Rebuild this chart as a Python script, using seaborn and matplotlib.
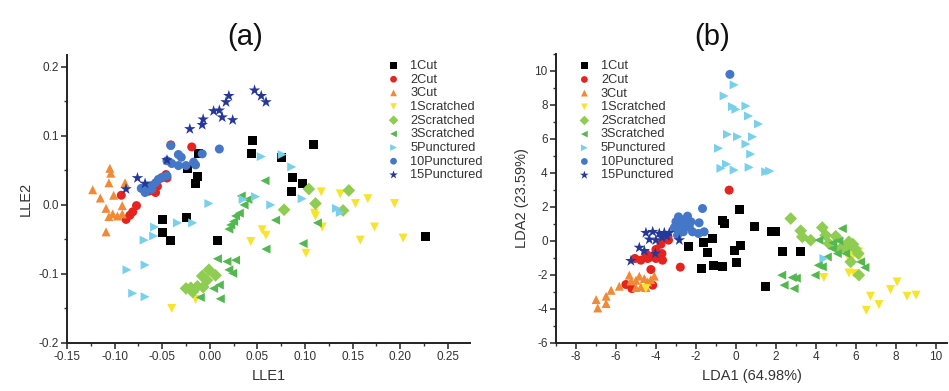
import numpy as np
import pandas as pd
import matplotlib
matplotlib.use("Agg")
import matplotlib.pyplot as plt
from matplotlib.ticker import MultipleLocator
import seaborn as sns

categories = ["1Cut", "2Cut", "3Cut", "1Scratched", "2Scratched", "3Scratched",
              "5Punctured", "10Punctured", "15Punctured"]
colors = ["#000000", "#e5231f", "#f08a36", "#f7e52b", "#8fcc52", "#52b84f",
          "#78d0ea", "#4477c8", "#25389a"]
markers = ["s", "o", "^", "v", "D", "<", ">", "o", "*"]

# ---- panel (a): LLE ----
a_1cut_x = [0.045, 0.044, 0.109, 0.075, 0.087, 0.086, 0.097, -0.012, -0.023, -0.013, -0.015, -0.050, -0.050, -0.041, -0.025, 0.008, 0.226]
a_1cut_y = [0.094, 0.074, 0.087, 0.068, 0.040, 0.020, 0.031, 0.074, 0.053, 0.041, 0.031, -0.021, -0.040, -0.052, -0.018, -0.051, -0.046]
a_2cut_x = [-0.041, -0.019, -0.093, -0.077, -0.081, -0.088, -0.071, -0.064, -0.057, -0.046, -0.051, -0.045, -0.055, -0.084]
a_2cut_y = [0.087, 0.084, 0.014, -0.001, -0.010, -0.021, 0.024, 0.020, 0.018, 0.044, 0.039, 0.039, 0.027, -0.015]
a_3cut_x = [-0.105, -0.106, -0.123, -0.101, -0.089, -0.115, -0.109, -0.102, -0.097, -0.092, -0.106, -0.092, -0.109, -0.104]
a_3cut_y = [0.053, 0.032, 0.022, 0.014, 0.032, 0.010, -0.005, -0.013, -0.016, -0.013, -0.017, -0.001, -0.039, 0.046]
a_1scr_x = [0.117, 0.137, 0.153, 0.166, 0.194, 0.110, 0.111, 0.118, 0.158, 0.173, 0.203, 0.101, 0.043, 0.055, 0.059, -0.040, -0.015]
a_1scr_y = [0.019, 0.016, 0.002, 0.009, 0.002, -0.012, -0.016, -0.032, -0.051, -0.032, -0.048, -0.070, -0.053, -0.036, -0.044, -0.150, -0.137]
a_2scr_x = [0.104, 0.111, 0.146, 0.140, 0.078, -0.001, -0.008, 0.006, -0.020, -0.013, -0.007, -0.025, -0.018, -0.003]
a_2scr_y = [0.023, 0.002, 0.021, -0.008, -0.007, -0.094, -0.103, -0.102, -0.120, -0.118, -0.119, -0.121, -0.126, -0.109]
a_3scr_x = [0.058, 0.033, 0.040, 0.036, 0.031, 0.027, 0.022, 0.025, 0.020, 0.069, 0.059, 0.098, 0.113, 0.008, 0.018, 0.027, 0.020, 0.024, 0.004, 0.011, -0.010, 0.010]
a_3scr_y = [0.035, 0.013, 0.008, 0.000, -0.012, -0.016, -0.029, -0.024, -0.035, -0.022, -0.064, -0.056, -0.026, -0.078, -0.082, -0.080, -0.094, -0.099, -0.121, -0.136, -0.134, -0.116]
a_5pun_x = [0.054, 0.076, 0.086, 0.048, 0.035, 0.064, 0.097, 0.133, 0.137, -0.001, -0.018, -0.034, -0.058, -0.069, -0.059, -0.087, -0.068, -0.081, -0.068]
a_5pun_y = [0.070, 0.073, 0.055, 0.012, 0.008, 0.000, 0.009, -0.005, -0.011, 0.002, -0.026, -0.026, -0.032, -0.051, -0.045, -0.094, -0.087, -0.128, -0.133]
a_10pun_x = [-0.041, -0.033, -0.030, -0.008, 0.010, -0.017, -0.015, -0.025, -0.033, -0.040, -0.045, -0.045, -0.050, -0.054, -0.057, -0.061, -0.066, -0.068, -0.061, -0.072]
a_10pun_y = [0.086, 0.073, 0.069, 0.074, 0.081, 0.062, 0.058, 0.057, 0.057, 0.060, 0.064, 0.042, 0.040, 0.037, 0.032, 0.028, 0.027, 0.018, 0.023, 0.024]
a_15pun_x = [0.047, 0.054, 0.059, 0.020, 0.017, 0.010, 0.004, 0.013, 0.024, -0.007, -0.008, -0.021, -0.068, -0.076, -0.088, -0.045]
a_15pun_y = [0.166, 0.158, 0.149, 0.158, 0.149, 0.137, 0.136, 0.127, 0.123, 0.124, 0.116, 0.110, 0.031, 0.039, 0.023, 0.065]

# ---- panel (b): LDA ----
b_1cut_x = [0.15, -0.68, -0.60, 0.90, 1.78, 1.98, -2.38, -1.65, -1.18, 0.24, -0.10, -1.41, -1.71, -1.13, -0.68, 0.04, 2.31, 3.23, 1.45]
b_1cut_y = [1.87, 1.23, 1.03, 0.87, 0.54, 0.58, -0.31, -0.11, 0.15, -0.25, -0.58, -0.70, -1.62, -1.47, -1.52, -1.27, -0.60, -0.60, -2.66]
b_2cut_x = [-0.35, -2.79, -3.38, -3.76, -4.01, -4.26, -4.51, -4.76, -5.06, -4.01, -3.71, -3.68, -4.26, -4.17, -5.51, -5.21, -4.42]
b_2cut_y = [2.99, -1.54, 0.05, -0.19, -0.50, -0.94, -0.74, -1.13, -1.03, -1.03, -0.74, -1.13, -1.68, -2.60, -2.56, -2.80, -1.03]
b_3cut_x = [-7.00, -6.92, -6.50, -6.50, -6.25, -5.84, -5.34, -5.26, -5.01, -4.84, -4.59, -4.42, -4.76, -5.01, -4.51, -4.26, -4.09]
b_3cut_y = [-3.45, -3.94, -3.25, -3.68, -2.90, -2.66, -2.01, -2.35, -2.31, -2.07, -2.21, -2.41, -2.70, -2.74, -2.74, -2.27, -2.07]
b_1scr_x = [-4.51, 4.39, 5.56, 5.73, 5.81, 5.64, 5.89, 6.14, 6.72, 7.14, 6.51, 7.72, 8.05, 8.55, 9.00, 5.44, 6.19]
b_1scr_y = [-2.80, -2.15, -0.84, -0.74, -0.94, -1.88, -1.92, -0.64, -3.25, -3.74, -4.08, -2.86, -2.41, -3.25, -3.19, -0.58, -0.94]
b_2scr_x = [2.73, 3.23, 3.31, 3.73, 4.31, 4.48, 4.98, 5.64, 5.84, 5.94, 6.11, 6.14, 5.48, 4.64, 5.23, 5.73]
b_2scr_y = [1.32, 0.60, 0.24, 0.05, 0.79, 0.34, 0.28, -0.05, -0.19, -0.44, -0.74, -2.01, -0.35, -0.15, -0.44, -1.23]
b_3scr_x = [2.28, 2.40, 2.81, 2.90, 3.01, 3.95, 4.11, 4.31, 4.56, 4.81, 5.06, 5.31, 5.48, 6.22, 6.44, 4.14, 4.84, 5.14]
b_3scr_y = [-2.01, -2.60, -2.15, -2.80, -2.19, -2.01, -1.43, -1.52, -0.94, -0.44, -0.74, 0.73, -0.74, -1.23, -1.56, 0.05, -0.11, 0.01]
b_5pun_x = [-0.60, -0.10, -0.18, -0.01, 0.49, 0.62, 1.12, -0.43, 0.07, 0.49, 0.82, 0.73, -0.88, -0.76, -0.48, -0.10, 0.65, 1.48, 1.68, 4.39]
b_5pun_y = [8.53, 9.18, 7.90, 7.74, 7.94, 7.35, 6.88, 6.27, 6.13, 5.70, 6.13, 5.11, 5.45, 4.27, 4.52, 4.17, 4.33, 4.07, 4.11, -1.03]
b_10pun_x = [-0.31, -1.68, -2.88, -2.68, -2.43, -2.26, -2.84, -2.59, -2.34, -2.18, -1.85, -1.88, -1.60, -2.51, -3.01, -3.09, -2.64, -2.93]
b_10pun_y = [9.80, 1.91, 1.42, 1.23, 1.46, 1.13, 0.83, 0.83, 0.83, 0.54, 1.07, 0.44, 0.54, 1.07, 1.13, 0.79, 0.54, 0.34]
b_15pun_x = [-4.51, -4.17, -3.84, -3.59, -3.34, -4.34, -4.01, -3.71, -2.84, -4.84, -4.59, -5.26, -4.04, -3.46]
b_15pun_y = [0.48, 0.54, 0.44, 0.48, 0.48, 0.09, 0.05, 0.20, 0.05, -0.39, -0.58, -1.17, -0.74, 0.28]

a_series = [(a_1cut_x, a_1cut_y), (a_2cut_x, a_2cut_y), (a_3cut_x, a_3cut_y),
            (a_1scr_x, a_1scr_y), (a_2scr_x, a_2scr_y), (a_3scr_x, a_3scr_y),
            (a_5pun_x, a_5pun_y), (a_10pun_x, a_10pun_y), (a_15pun_x, a_15pun_y)]
b_series = [(b_1cut_x, b_1cut_y), (b_2cut_x, b_2cut_y), (b_3cut_x, b_3cut_y),
            (b_1scr_x, b_1scr_y), (b_2scr_x, b_2scr_y), (b_3scr_x, b_3scr_y),
            (b_5pun_x, b_5pun_y), (b_10pun_x, b_10pun_y), (b_15pun_x, b_15pun_y)]


def to_df(series):
    rows = []
    for cat, (xs, ys) in zip(categories, series):
        for x, y in zip(xs, ys):
            rows.append((cat, x, y))
    return pd.DataFrame(rows, columns=["group", "x", "y"])


sns.set_style("ticks")
plt.rcParams["font.family"] = ["Liberation Sans", "DejaVu Sans"]
plt.rcParams["axes.unicode_minus"] = False
plt.rcParams["text.color"] = "#333333"
plt.rcParams["axes.labelcolor"] = "#333333"
plt.rcParams["xtick.color"] = "#333333"
plt.rcParams["ytick.color"] = "#333333"

fig = plt.figure(figsize=(9.49, 3.91), dpi=100)
ax1 = fig.add_axes([0.0706, 0.1228, 0.4244, 0.7362])
ax2 = fig.add_axes([0.586, 0.1228, 0.412, 0.7392])

palette = dict(zip(categories, colors))
marker_map = dict(zip(categories, markers))
sizes_map = {c: (75 if m == "*" else 42) for c, m in zip(categories, markers)}

for ax, series in [(ax1, a_series), (ax2, b_series)]:
    df = to_df(series)
    for cat in categories:
        sub = df[df["group"] == cat]
        sns.scatterplot(data=sub, x="x", y="y", color=palette[cat], marker=marker_map[cat],
                        s=sizes_map[cat], edgecolor="none", linewidth=0, ax=ax,
                        label=cat, legend=True)

# panel (a) axes
ax1.set_xlim(-0.15, 0.273)
ax1.set_ylim(-0.2, 0.217)
ax1.xaxis.set_minor_locator(MultipleLocator(0.025))
ax1.yaxis.set_minor_locator(MultipleLocator(0.05))
ax1.set_xticks([-0.15, -0.10, -0.05, 0.0, 0.05, 0.10, 0.15, 0.20, 0.25])
ax1.set_xticklabels(["-0.15", "-0.10", "-0.05", "0.00", "0.05", "0.10", "0.15", "0.20", "0.25"])
ax1.set_yticks([-0.2, -0.1, 0.0, 0.1, 0.2])
ax1.set_yticklabels(["-0.2", "-0.1", "0.0", "0.1", "0.2"])
ax1.set_xlabel("LLE1", fontsize=10.5)
ax1.set_ylabel("LLE2", fontsize=10.5)

# panel (b) axes
ax2.set_xlim(-9, 10.55)
ax2.set_ylim(-6, 11)
ax2.set_xticks([-8, -6, -4, -2, 0, 2, 4, 6, 8, 10])
ax2.xaxis.set_minor_locator(MultipleLocator(1))
ax2.set_yticks([-6, -4, -2, 0, 2, 4, 6, 8, 10])
ax2.yaxis.set_minor_locator(MultipleLocator(1))
ax2.set_xlabel("LDA1 (64.98%)", fontsize=10.5)
ax2.set_ylabel("LDA2 (23.59%)", fontsize=10.5)

for ax in (ax1, ax2):
    sns.despine(ax=ax)
    for sp in ("left", "bottom"):
        ax.spines[sp].set_linewidth(1.4)
        ax.spines[sp].set_color("#222222")
    ax.tick_params(which="major", direction="out", length=4, width=1.2, labelsize=8.5, pad=2)
    ax.tick_params(which="minor", direction="out", length=2.5, width=1.0)

fig.text(0.258, 0.905, "(a)", fontsize=21, ha="center", va="center", color="#111111")
fig.text(0.75, 0.905, "(b)", fontsize=21, ha="center", va="center", color="#111111")

leg_kw = dict(frameon=False, fontsize=9.2, handletextpad=0.3, labelspacing=0.13,
              borderaxespad=0.2, markerscale=0.75)
ax1.legend(loc="upper left", bbox_to_anchor=(0.76, 1.01), **leg_kw)
ax2.legend(loc="upper left", bbox_to_anchor=(0.02, 1.005), **leg_kw)

fig.savefig("out.png", dpi=100)
